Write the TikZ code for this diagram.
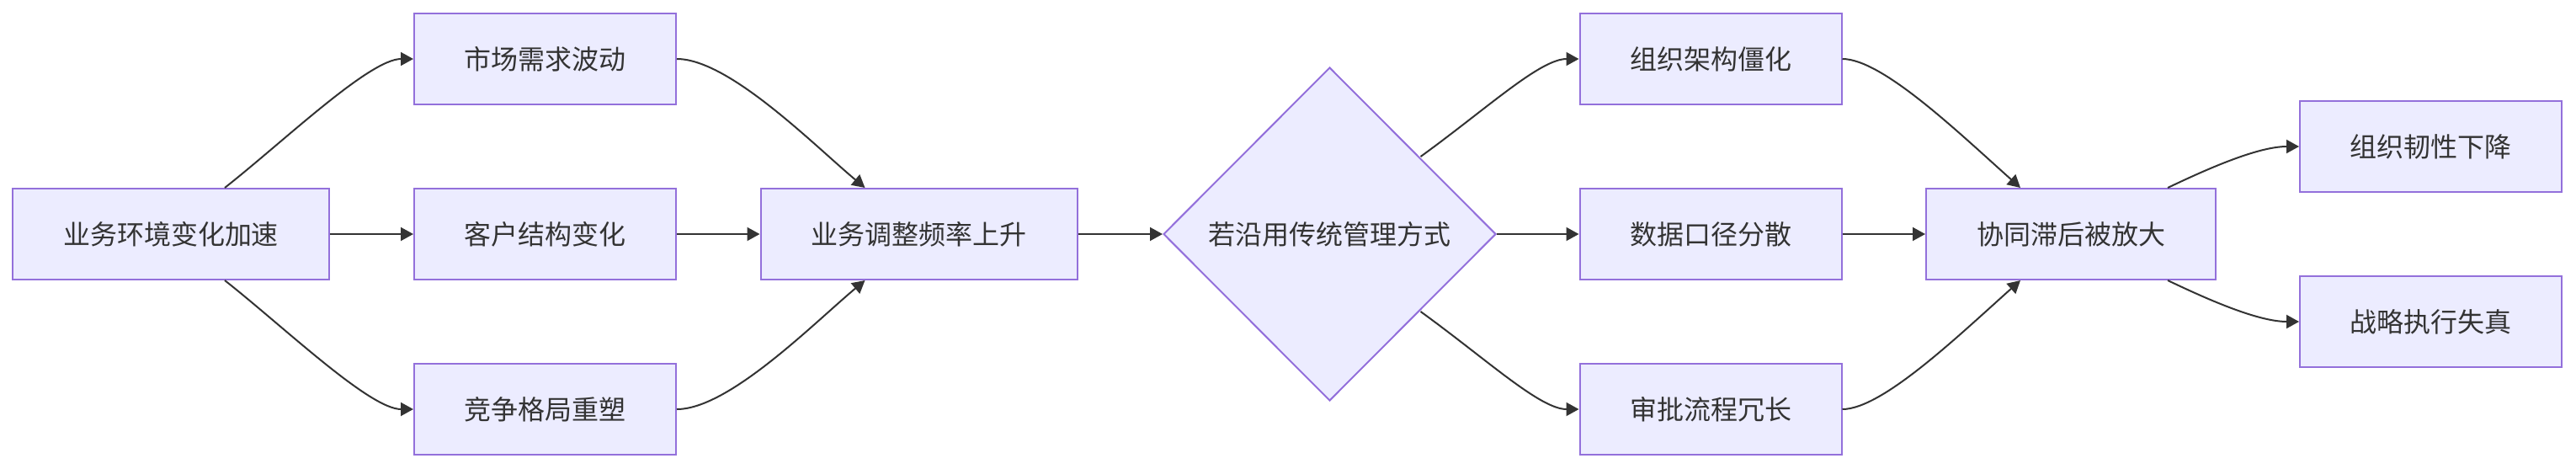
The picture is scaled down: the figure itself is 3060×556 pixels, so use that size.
\documentclass[tikz,border=0pt]{standalone}
\usepackage{fontspec}
\setmainfont{Noto Sans CJK SC}
\usetikzlibrary{shapes.geometric,arrows.meta}
\definecolor{boxfill}{HTML}{ECECFF}
\definecolor{boxline}{HTML}{9370DB}
\definecolor{ink}{HTML}{333333}
\tikzset{
  x=0.3pt, y=-0.3pt,
  box/.style={draw=boxline, fill=boxfill, line width=0.6pt, inner sep=0pt,
    minimum height=32.4pt, text=ink, font=\fontsize{9.6pt}{11pt}\selectfont},
  wbox/.style={box, minimum width=112.8pt},
  mbox/.style={box, minimum width=93.3pt},
  decide/.style={diamond, draw=boxline, fill=boxfill, line width=0.6pt, inner sep=0pt,
    minimum width=118.5pt, minimum height=118.8pt, text=ink, font=\fontsize{9.6pt}{11pt}\selectfont},
  link/.style={draw=ink, line width=0.6pt, -{Triangle[length=4.5pt,width=4.8pt]}},
}
\begin{document}
\begin{tikzpicture}
\useasboundingbox (0,0) rectangle (3060,556);
\node[wbox] (A) at (203,278) {业务环境变化加速};
\node[mbox] (B1) at (647.5,70) {市场需求波动};
\node[mbox] (B2) at (647.5,278) {客户结构变化};
\node[mbox] (B3) at (647.5,486) {竞争格局重塑};
\node[wbox] (C) at (1091.5,278) {业务调整频率上升};
\node[decide] (D) at (1579.5,278) {若沿用传统管理方式};
\node[mbox] (E1) at (2032,70) {组织架构僵化};
\node[mbox] (E2) at (2032,278) {数据口径分散};
\node[mbox] (E3) at (2032,486) {审批流程冗长};
\node[box, minimum width=103.2pt] (F) at (2460,278) {协同滞后被放大};
\node[mbox] (G1) at (2887.5,174) {组织韧性下降};
\node[mbox] (G2) at (2887.5,382) {战略执行失真};

% column 1 -> column 2
\draw[link] ([xshift=19.2pt]A.north) .. controls +(70,-55) and +(-52,0) .. (B1.west);
\draw[link] (A.east) -- (B2.west);
\draw[link] ([xshift=19.2pt]A.south) .. controls +(70,55) and +(-52,0) .. (B3.west);
% column 2 -> C
\draw[link] (B1.east) .. controls +(62,0) and +(-60,-50) .. ([xshift=-19.2pt]C.north);
\draw[link] (B2.east) -- (C.west);
\draw[link] (B3.east) .. controls +(62,0) and +(-60,50) .. ([xshift=-19.2pt]C.south);
% C -> D
\draw[link] (C.east) -- (D.west);
% D -> column 4
\draw[link] ([xshift=32.4pt,yshift=27.6pt]D.center) .. controls +(80,-58) and +(-46,0) .. (E1.west);
\draw[link] (D.east) -- (E2.west);
\draw[link] ([xshift=32.4pt,yshift=-27.6pt]D.center) .. controls +(80,58) and +(-46,0) .. (E3.west);
% column 4 -> F
\draw[link] (E1.east) .. controls +(47,0) and +(-75,-67) .. ([xshift=-18pt]F.north);
\draw[link] (E2.east) -- (F.west);
\draw[link] (E3.east) .. controls +(47,0) and +(-75,67) .. ([xshift=-18pt]F.south);
% F -> outcomes
\draw[link] ([xshift=34.5pt]F.north) .. controls +(40,-19) and +(-51,0) .. (G1.west);
\draw[link] ([xshift=34.5pt]F.south) .. controls +(40,19) and +(-51,0) .. (G2.west);
\end{tikzpicture}
\end{document}
